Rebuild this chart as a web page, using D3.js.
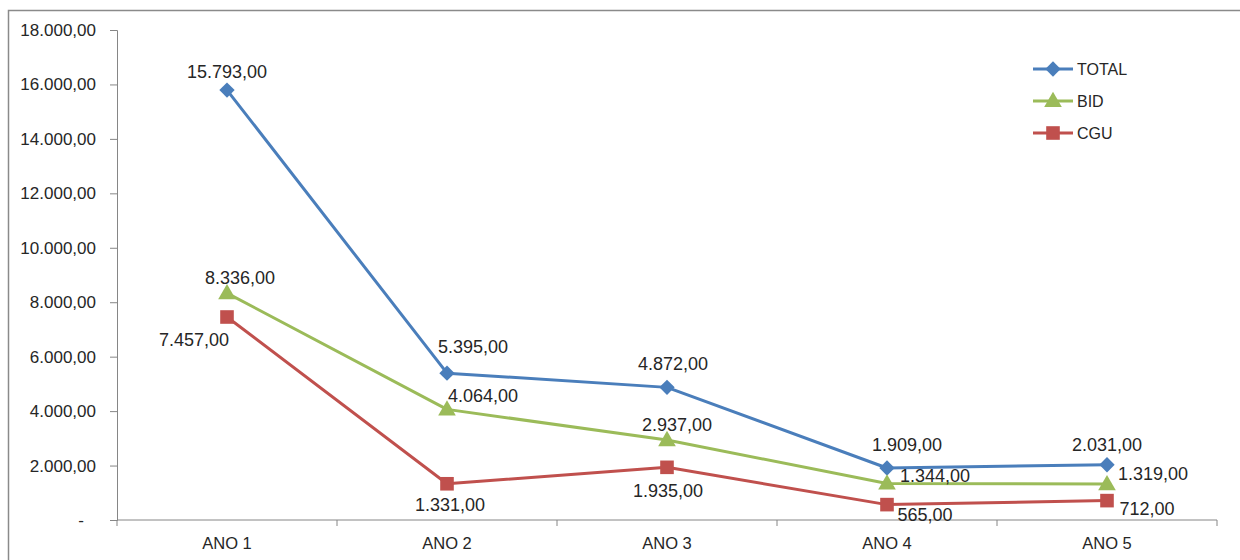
<!DOCTYPE html>
<html>
<head>
<meta charset="utf-8">
<script src="https://cdn.jsdelivr.net/npm/d3@7"></script>
<style>
  html, body { margin: 0; padding: 0; background: #fff; }
  svg { display: block; font-family: "Liberation Sans", Arial, sans-serif; }
</style>
</head>
<body>
<div id="chart"></div>
<script>
// data
const categories = ['ANO 1', 'ANO 2', 'ANO 3', 'ANO 4', 'ANO 5'];
const total = [15793, 5395, 4872, 1909, 2031];
const bid = [8336, 4064, 2937, 1344, 1319];
const cgu = [7457, 1331, 1935, 565, 712];
const yTicks = [0, 2000, 4000, 6000, 8000, 10000, 12000, 14000, 16000, 18000];

// label offsets from each marker (dx, dy of text center)
const labelOffsets = {
    TOTAL: [[0, -18], [26, -26], [6, -24], [20, -23], [0, -20]],
    BID: [[13, -15], [36, -14], [10, -15], [48, -8], [46, -10]],
    CGU: [[-33, 23], [3, 21], [1, 23], [38, 10], [40, 8]]
};

const series = [
    { name: 'TOTAL', values: total, color: '#4a7ebb', symbol: 'diamond' },
    { name: 'BID', values: bid, color: '#9bbb59', symbol: 'triangle' },
    { name: 'CGU', values: cgu, color: '#c0504d', symbol: 'square' }
];

const W = 1240, H = 560;
const margin = { top: 30, right: 23, bottom: 40, left: 117 };
const innerW = W - margin.left - margin.right;
const innerH = H - margin.top - margin.bottom;

const fmt = v => v === 0 ? '-' : d3.format(',.2f')(v).replace(/,/g, '#').replace('.', ',').replace(/#/g, '.');

const svg = d3.select('#chart').append('svg')
    .attr('width', W)
    .attr('height', H);

// outer frame
svg.append('path')
    .attr('d', `M8.5,${H} V10.5 H${W}`)
    .attr('fill', 'none')
    .attr('stroke', '#8a8a8a')
    .attr('stroke-width', 1.5);

const g = svg.append('g').attr('transform', `translate(${margin.left},${margin.top})`);

const x = d3.scaleBand().domain(categories).range([0, innerW]);
const y = d3.scaleLinear().domain([0, 18000]).range([innerH, 0]);

// y axis
const yAxis = g.append('g')
    .call(d3.axisLeft(y).tickValues(yTicks).tickSize(7).tickPadding(14).tickFormat(fmt));
yAxis.select('.domain').attr('stroke', '#868686');
yAxis.selectAll('.tick line').attr('stroke', '#868686');
yAxis.selectAll('.tick text')
    .attr('font-size', 17).attr('fill', '#262626')
    .attr('font-family', '"Liberation Sans", Arial, sans-serif')
    .attr('dx', d => d === 0 ? -12 : 0);

// x axis with ticks at band edges
const xg = g.append('g').attr('transform', `translate(0,${innerH})`);
xg.append('line')
    .attr('x1', 0).attr('x2', innerW)
    .attr('stroke', '#868686');
xg.selectAll('line.tk')
    .data(d3.range(categories.length + 1))
    .enter().append('line')
    .attr('class', 'tk')
    .attr('x1', i => i * x.bandwidth()).attr('x2', i => i * x.bandwidth())
    .attr('y1', 0).attr('y2', 6)
    .attr('stroke', '#868686');
xg.selectAll('text')
    .data(categories)
    .enter().append('text')
    .attr('x', d => x(d) + x.bandwidth() / 2)
    .attr('y', 29)
    .attr('text-anchor', 'middle')
    .attr('font-size', 16.5)
    .attr('fill', '#262626')
    .text(d => d);

const cx = (d, i) => x(categories[i]) + x.bandwidth() / 2;

const symbolOf = {
    diamond: d3.symbol().type(d3.symbolDiamond2).size(150),
    triangle: d3.symbol().type(d3.symbolTriangle).size(135),
    square: d3.symbol().type(d3.symbolSquare).size(185)
};

series.forEach(s => {
    const line = d3.line().x(cx).y(d => y(d));
    g.append('path')
        .datum(s.values)
        .attr('d', line)
        .attr('fill', 'none')
        .attr('stroke', s.color)
        .attr('stroke-width', 3)
        .attr('stroke-linejoin', 'round');
});

series.forEach(s => {
    g.selectAll(null)
        .data(s.values)
        .enter().append('path')
        .attr('d', symbolOf[s.symbol])
        .attr('transform', (d, i) => `translate(${cx(d, i)},${y(d) + (s.symbol === 'triangle' ? 1 : 0)})`)
        .attr('fill', s.color);
});

series.forEach(s => {
    g.selectAll(null)
        .data(s.values)
        .enter().append('text')
        .attr('x', (d, i) => cx(d, i) + labelOffsets[s.name][i][0])
        .attr('y', (d, i) => y(d) + labelOffsets[s.name][i][1])
        .attr('dy', '0.35em')
        .attr('text-anchor', 'middle')
        .attr('font-size', 18)
        .attr('fill', '#262626')
        .text(fmt);
});

// legend
const legend = svg.append('g').attr('transform', 'translate(1033,69)');
series.forEach((s, i) => {
    const row = legend.append('g').attr('transform', `translate(0,${i * 32})`);
    row.append('line')
        .attr('x1', 0).attr('x2', 40)
        .attr('stroke', s.color).attr('stroke-width', 3);
    row.append('path')
        .attr('d', symbolOf[s.symbol])
        .attr('transform', `translate(20,${s.symbol === 'triangle' ? 1 : 0})`)
        .attr('fill', s.color);
    row.append('text')
        .attr('x', 44).attr('dy', '0.35em')
        .attr('font-size', 16)
        .attr('fill', '#262626')
        .text(s.name);
});
</script>
</body>
</html>
